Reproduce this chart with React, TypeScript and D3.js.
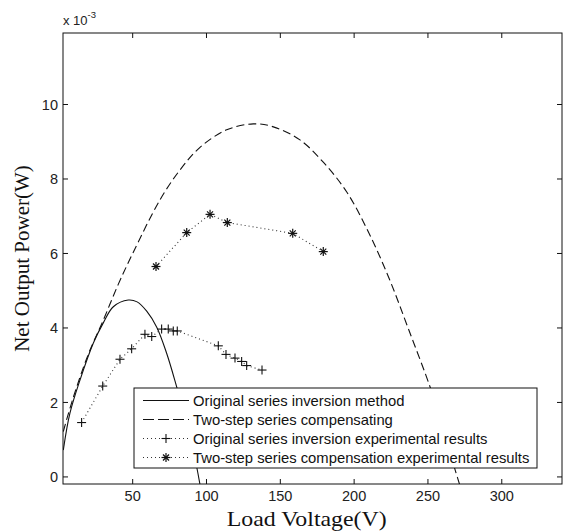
import React from "react";
import * as d3 from "d3";

// theory curves (power in units of 1e-3 W)
const origVoltage = [3, 7.5, 14.3, 23.3, 30, 36.9, 47, 53, 59.5, 66.3, 73, 79.8, 87, 93.3, 96];
const origPower = [0.72, 1.71, 2.6, 3.59, 4.13, 4.57, 4.75, 4.7, 4.45, 4.02, 3.32, 2.42, 1.4, 0.28, -0.3];

const twoStepVoltage = [3, 9.5, 20, 30, 40, 50, 68.5, 82, 95.6, 113.7, 131.7, 145.3, 163.3, 179.1, 195, 210, 224, 237, 251.4, 260, 268.4, 273];
const twoStepPower = [1.22, 2.1, 3.3, 4.2, 5.15, 6.0, 7.44, 8.24, 8.85, 9.32, 9.48, 9.4, 9.05, 8.45, 7.65, 6.55, 5.3, 3.95, 2.42, 1.35, 0.19, -0.4];

// experimental results
const origExpVoltage = [15.4, 29.7, 41.4, 49.3, 58.3, 62.9, 69.6, 74.1, 77.5, 80.2, 108, 113.2, 119.3, 123.8, 127.2, 137.6];
const origExpPower = [1.46, 2.44, 3.16, 3.44, 3.83, 3.77, 3.97, 3.97, 3.92, 3.92, 3.52, 3.29, 3.19, 3.1, 2.99, 2.87];

const twoStepExpVoltage = [65.8, 86.6, 102.4, 114.1, 158.4, 179.1];
const twoStepExpPower = [5.65, 6.56, 7.05, 6.83, 6.54, 6.05];

const xTicks = [50, 100, 150, 200, 250, 300];
const yTicks = [0, 2, 4, 6, 8, 10];

const legendLabels = [
  "Original series inversion method",
  "Two-step series compensating",
  "Original series inversion experimental results",
  "Two-step series compensation experimental results",
];

const W = 563;
const H = 531;
const left = 63, right = 562, top = 33, bottom = 484;

const zip = (xs: number[], ys: number[]) => xs.map((x, i) => [x, ys[i]] as [number, number]);

function Plus({ x, y }: { x: number; y: number }) {
  const s = 4.5;
  return (
    <g stroke="#111" strokeWidth={1.1}>
      <line x1={x - s} x2={x + s} y1={y} y2={y} />
      <line x1={x} x2={x} y1={y - s} y2={y + s} />
    </g>
  );
}

function Star({ x, y }: { x: number; y: number }) {
  const s = 4.5, d = 3;
  return (
    <g stroke="#111" strokeWidth={1.2}>
      <line x1={x - s} x2={x + s} y1={y} y2={y} />
      <line x1={x} x2={x} y1={y - s} y2={y + s} />
      <line x1={x - d} x2={x + d} y1={y - d} y2={y + d} />
      <line x1={x - d} x2={x + d} y1={y + d} y2={y - d} />
    </g>
  );
}

export default function App() {
  const x = d3.scaleLinear().domain([2.8, 340.8]).range([left, right]);
  const y = d3.scaleLinear().domain([-0.19, 11.92]).range([bottom, top]);

  const smooth = d3.line<[number, number]>()
    .x((d) => x(d[0]))
    .y((d) => y(d[1]))
    .curve(d3.curveCatmullRom.alpha(0.5));
  const straight = d3.line<[number, number]>()
    .x((d) => x(d[0]))
    .y((d) => y(d[1]));

  const origExp = zip(origExpVoltage, origExpPower);
  const twoExp = zip(twoStepExpVoltage, twoStepExpPower);

  const font = "'Liberation Sans', Arial, sans-serif";
  const serif = "'Liberation Serif', 'Times New Roman', serif";

  // legend geometry
  const lg = { x: 134, y: 388, w: 403, h: 80, row: 19 };

  return (
    <div style={{ position: "absolute", left: 0, top: 0 }}>
      <svg width={W} height={H} style={{ display: "block", background: "#fff" }}>
        <defs>
          <clipPath id="plot">
            <rect x={left} y={top} width={right - left} height={bottom - top} />
          </clipPath>
        </defs>

        <g clipPath="url(#plot)" fill="none">
          <path d={smooth(zip(origVoltage, origPower)) || ""} stroke="#111" strokeWidth={1.1} />
          <path d={smooth(zip(twoStepVoltage, twoStepPower)) || ""} stroke="#111" strokeWidth={1.1} strokeDasharray="8,4" />
          <path d={straight(origExp) || ""} stroke="#333" strokeWidth={1.1} strokeDasharray="1,3" />
          <path d={straight(twoExp) || ""} stroke="#333" strokeWidth={1.1} strokeDasharray="1,3" />
          {origExp.map((d, i) => <Plus key={i} x={x(d[0])} y={y(d[1])} />)}
          {twoExp.map((d, i) => <Star key={i} x={x(d[0])} y={y(d[1])} />)}
        </g>

        {/* axes box */}
        <rect x={left} y={top} width={right - left} height={bottom - top} fill="none" stroke="#111" strokeWidth={1} />

        {xTicks.map((t) => (
          <g key={t}>
            <line x1={x(t)} x2={x(t)} y1={bottom} y2={bottom - 5} stroke="#111" />
            <line x1={x(t)} x2={x(t)} y1={top} y2={top + 5} stroke="#111" />
            <text x={x(t)} y={bottom + 16.5} textAnchor="middle" fontFamily={font} fontSize={14.5} fill="#222">{t}</text>
          </g>
        ))}
        {yTicks.map((t) => (
          <g key={t}>
            <line x1={left} x2={left + 5} y1={y(t)} y2={y(t)} stroke="#111" />
            <line x1={right} x2={right - 5} y1={y(t)} y2={y(t)} stroke="#111" />
            <text x={left - 5} y={y(t)} dy="0.35em" textAnchor="end" fontFamily={font} fontSize={14.5} fill="#222">{t}</text>
          </g>
        ))}

        <text x={63} y={25} fontFamily={font} fontSize={13} fill="#222">
          x 10<tspan dy={-7} fontSize={9.5}>-3</tspan>
        </text>

        <text x={306.7} y={526} textAnchor="middle" fontFamily={serif} fontSize={22} fill="#111"
          textLength={160} lengthAdjust="spacingAndGlyphs">Load Voltage(V)</text>
        <text transform={`translate(29, ${(top + bottom) / 2}) rotate(-90)`} textAnchor="middle" fontFamily={serif} fontSize={21} fill="#111">Net Output Power(W)</text>

        {/* legend */}
        <g>
          <rect x={lg.x} y={lg.y} width={lg.w} height={lg.h} fill="#fff" stroke="#111" strokeWidth={1} />
          {legendLabels.map((label, i) => {
            const cy = lg.y + 12.5 + i * lg.row;
            const x1 = lg.x + 9, x2 = lg.x + 55, mid = (x1 + x2) / 2;
            return (
              <g key={label}>
                {i === 0 && <line x1={x1} x2={x2} y1={cy} y2={cy} stroke="#111" strokeWidth={1.1} />}
                {i === 1 && <line x1={x1} x2={x2} y1={cy} y2={cy} stroke="#111" strokeWidth={1.1} strokeDasharray="11,4" />}
                {i >= 2 && <line x1={x1} x2={x2} y1={cy} y2={cy} stroke="#333" strokeWidth={1.1} strokeDasharray="1,3" />}
                {i === 2 && <Plus x={mid} y={cy} />}
                {i === 3 && <Star x={mid} y={cy} />}
                <text x={lg.x + 59} y={cy} dy="0.35em" fontFamily={font} fontSize={14.8} fill="#111">{label}</text>
              </g>
            );
          })}
        </g>
      </svg>
    </div>
  );
}
